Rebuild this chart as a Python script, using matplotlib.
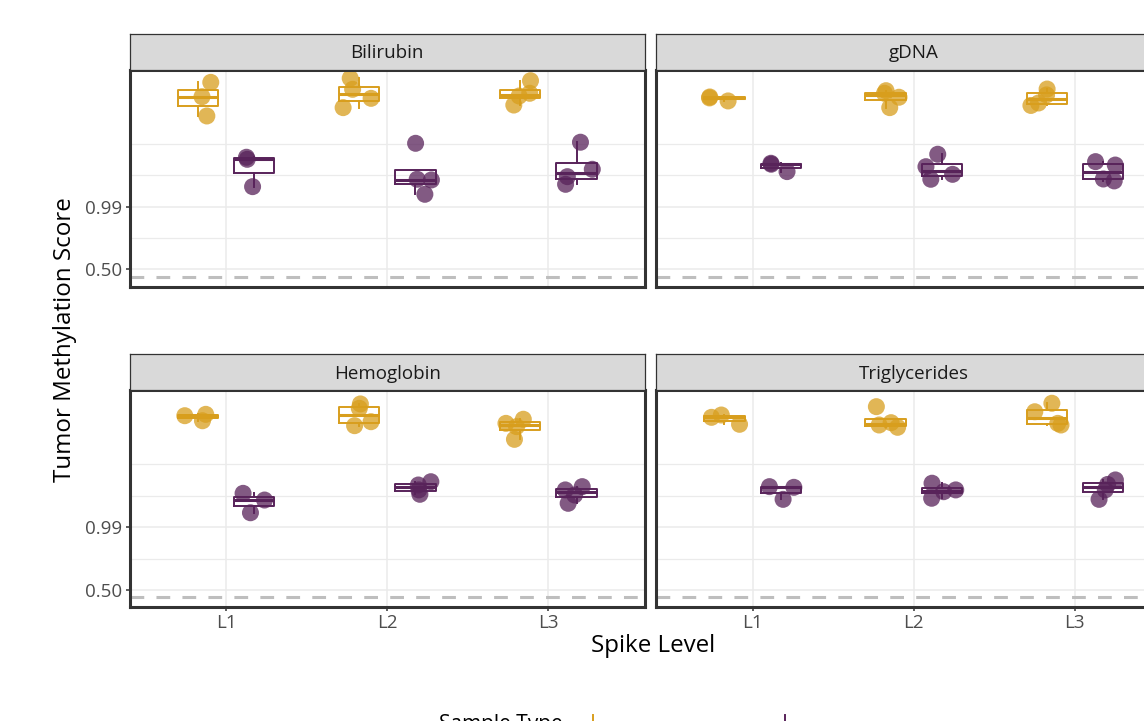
import numpy as np
import matplotlib.pyplot as plt
from matplotlib.lines import Line2D

W, H = 1144, 721
plt.rcParams['font.family'] = ['Open Sans', 'DejaVu Sans']

levels = ["L1", "L2", "L3"]
panels = ["Bilirubin", "gDNA", "Hemoglobin", "Triglycerides"]

# scores on the log-odds scale, one list per spike level
bilirubin_gold = [[12.64, 13.69, 11.23], [13.99, 13.18, 12.52, 11.84], [13.81, 12.89, 12.69, 12.03]]
bilirubin_purple = [[8.06, 8.21, 6.06], [9.23, 6.60, 6.55, 5.50], [9.31, 7.33, 6.79, 6.23]]
gdna_gold = [[12.33, 12.62, 12.55], [13.08, 12.89, 12.60, 11.84], [13.20, 12.77, 12.18, 12.00]]
gdna_purple = [[7.77, 7.16, 7.70], [8.43, 7.52, 6.96, 6.60], [7.89, 7.64, 6.62, 6.48]]
hemoglobin_gold = [[12.38, 12.85, 12.75], [13.61, 13.29, 12.31, 12.02], [12.49, 12.19, 11.95, 11.02]]
hemoglobin_purple = [[7.07, 6.58, 5.65], [7.92, 7.68, 7.32, 7.00], [7.56, 7.32, 6.95, 6.34]]
trig_gold = [[12.80, 12.63, 12.12], [13.41, 12.24, 12.07, 11.90], [13.66, 13.04, 12.19, 12.07]]
trig_purple = [[7.51, 6.63, 7.56], [7.81, 7.32, 7.19, 6.71], [8.05, 7.72, 7.32, 6.63]]

cutoff_logodds = -0.55
tick_probs = [0.50, 0.99]
tick_labels = ["0.50", "0.99"]

GOLD = "#D89E1D"
PURPLE = "#58235A"
GRID = "#EBEBEB"
DARK = "#333333"


def logodds(p):
    return np.log(p / (1 - p))


def px_rect(left, top, right, bottom):
    return [left / W, 1 - bottom / H, (right - left) / W, (bottom - top) / H]


fig = plt.figure(figsize=(W / 100, H / 100), dpi=100)
rng = np.random.default_rng(7)

series = {
    "Bilirubin": (bilirubin_gold, bilirubin_purple),
    "gDNA": (gdna_gold, gdna_purple),
    "Hemoglobin": (hemoglobin_gold, hemoglobin_purple),
    "Triglycerides": (trig_gold, trig_purple),
}

lefts = [129.5, 656]
panel_w = 515.5
rows = [(33.5, 69.5, 286.7), (354, 390, 607.2)]

major_y = [logodds(p) for p in tick_probs]
step = (major_y[1] - major_y[0]) / 2
minor_y = [major_y[0] + step, major_y[1] + step, major_y[1] + 2 * step]

for i, name in enumerate(panels):
    r, c = divmod(i, 2)
    strip_top, top, bottom = rows[r]
    left = lefts[c]
    right = left + panel_w

    ax = fig.add_axes(px_rect(left, top, right, bottom))
    ax.set_xlim(0.4, 3.6)
    ax.set_ylim(-1.26, 14.63)

    ax.set_yticks(major_y)
    ax.set_yticks(minor_y, minor=True)
    ax.set_xticks(range(1, 4))
    ax.grid(which="major", color=GRID, lw=1.1, zorder=0)
    ax.grid(which="minor", axis="y", color=GRID, lw=0.9, zorder=0)
    ax.set_axisbelow(True)

    ax.axhline(cutoff_logodds, color="#BEBEBE", lw=2.2, dashes=(4.5, 4), zorder=1)

    for g, (vals, color, off) in enumerate(zip(series[name], (GOLD, PURPLE), (-0.175, 0.175))):
        for k, ys in enumerate(vals):
            pos = k + 1 + off
            xs = pos + rng.uniform(-0.1, 0.1, len(ys))
            ax.scatter(xs, ys, s=150, color=color, alpha=0.75, edgecolors="none", zorder=2)
            ax.boxplot([ys], positions=[pos], widths=0.25, showfliers=False, showcaps=False,
                       manage_ticks=False,
                       boxprops=dict(color=color, lw=1.4),
                       whiskerprops=dict(color=color, lw=1.4),
                       medianprops=dict(color=color, lw=2.2),
                       zorder=3)

    for s in ax.spines.values():
        s.set_color(DARK)
        s.set_linewidth(2.2)
        s.set_zorder(5)

    ax.tick_params(which="major", length=3, width=1.1, color=DARK, labelcolor="#4D4D4D",
                   labelsize=13.5, pad=2)
    ax.tick_params(which="minor", length=0)
    if c == 0:
        ax.set_yticklabels(tick_labels)
    else:
        ax.tick_params(left=False, labelleft=False)
    if r == 1:
        ax.set_xticklabels(levels)
    else:
        ax.tick_params(bottom=False, labelbottom=False)

    sax = fig.add_axes(px_rect(left, strip_top, right, top))
    sax.set_facecolor("#D9D9D9")
    sax.set_xticks([])
    sax.set_yticks([])
    for s in sax.spines.values():
        s.set_color(DARK)
        s.set_linewidth(0.9)
    sax.text(0.5, 0.45, name, ha="center", va="center", fontsize=13.5, color="#1A1A1A",
             transform=sax.transAxes)

fig.text(653 / W, 1 - 646 / H, "Spike Level", ha="center", va="center", fontsize=17.4)
fig.text(65 / W, 1 - 340 / H, "Tumor Methylation Score", ha="center", va="center",
         rotation=90, fontsize=17.4)

# legend sits below the visible area; only its top edge shows
fig.text(439 / W, (H - 730) / H, "Sample Type", ha="left", va="baseline", fontsize=15)
for xk, color in ((593, GOLD), (785, PURPLE)):
    fig.add_artist(Line2D([xk / W, xk / W], [1 - 715 / H, -0.01], color=color, lw=1.4))

fig.savefig("out.png", dpi=100)
